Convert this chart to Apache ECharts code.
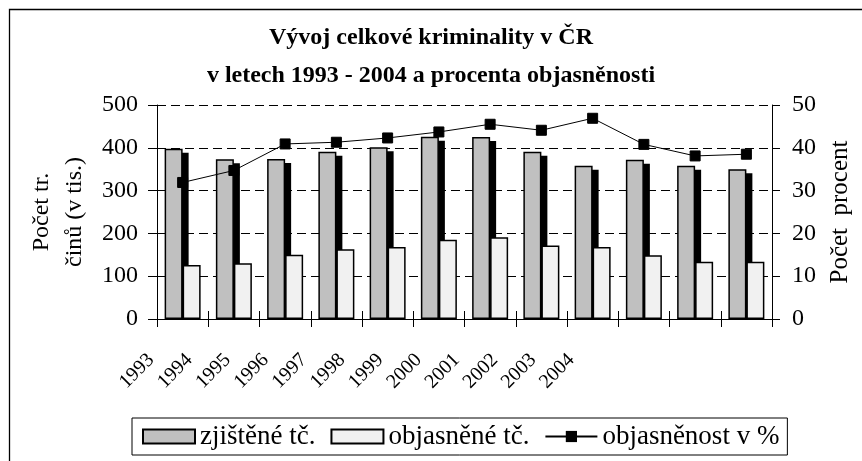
<!DOCTYPE html>
<html>
<head>
<meta charset="utf-8">
<script src="https://cdn.jsdelivr.net/npm/echarts@6/dist/echarts.min.js"></script>
<style>
html,body{margin:0;padding:0;background:#fff;}
#c{width:862px;height:461px;}
</style>
</head>
<body>
<div id="c"></div>
<script>
const years = ['1993','1994','1995','1996','1997','1998','1999','2000','2001','2002','2003','2004'];
const zjistene = [398, 373, 374, 391, 401, 426, 425, 391, 358, 372, 358, 350];
const objasnene = [126, 130, 150, 163, 168, 185, 191, 172, 168, 149, 134, 134];
const objasnenost = [31.9, 34.7, 40.9, 41.3, 42.3, 43.7, 45.5, 44.1, 46.9, 40.8, 38.1, 38.5];
const leftTicks = [0, 100, 200, 300, 400, 500];
const rightTicks = [0, 10, 20, 30, 40, 50];

const FONT = 'Liberation Serif';
const BAR_W = 18;
const chart = echarts.init(document.getElementById('c'), null, {renderer: 'canvas'});
chart.setOption({
  animation: false,
  backgroundColor: '#fff',
  graphic: [{
    type: 'rect', left: 7, top: 7, silent: true,
    shape: {width: 900, height: 500},
    style: {fill: 'none', stroke: '#000', lineWidth: 1.3},
    z: -10
  }],
  title: {
    text: 'Vývoj celkové kriminality v ČR\nv letech 1993 - 2004 a procenta objasněnosti',
    left: 'center', top: 14,
    textStyle: {fontFamily: FONT, fontWeight: 'bold', fontSize: 24, lineHeight: 38, color: '#000'}
  },
  legend: {
    left: 132, top: 418,
    padding: [5, 8, 5, 10],
    borderColor: '#000', borderWidth: 1,
    itemWidth: 52, itemHeight: 14, itemGap: 15,
    textStyle: {fontFamily: FONT, fontSize: 27, color: '#000'},
    data: [
      {name: 'zjištěné tč.', icon: 'rect'},
      {name: 'objasněné tč.', icon: 'rect'},
      {name: 'objasněnost v %'}
    ]
  },
  grid: [
    {left: 157, right: 90, top: 105, bottom: 142},
    {left: 132, right: 271.6, top: 105, bottom: 142}
  ],
  xAxis: [
    {
      type: 'category', data: years, gridIndex: 0, boundaryGap: true,
      axisLine: {lineStyle: {color: '#000', width: 1}},
      axisTick: {show: true, length: 8, interval: 0, lineStyle: {color: '#000'}},
      axisLabel: {show: false}
    },
    {
      type: 'category', data: years, gridIndex: 0, position: 'bottom', offset: 0,
      axisLine: {show: false},
      axisTick: {show: true, inside: true, length: 8, interval: 0, lineStyle: {color: '#000'}},
      axisLabel: {show: false}
    },
    {
      type: 'category', data: years, gridIndex: 1, position: 'bottom',
      axisLine: {show: false}, axisTick: {show: false},
      axisLabel: {rotate: 45, margin: 38, interval: 0, fontFamily: FONT, fontSize: 20, color: '#000'}
    }
  ],
  yAxis: [
    {
      type: 'value', gridIndex: 0, min: leftTicks[0], max: leftTicks[leftTicks.length - 1], interval: 100,
      name: 'Počet tr.\nčinů (v tis.)', nameLocation: 'middle', nameGap: 65, nameRotate: 90,
      nameTextStyle: {fontFamily: FONT, fontSize: 24, color: '#000', lineHeight: 33},
      axisLine: {show: true, lineStyle: {color: '#000'}},
      axisTick: {show: true, length: 9, lineStyle: {color: '#000'}},
      axisLabel: {margin: 19, fontFamily: FONT, fontSize: 24, color: '#000'},
      splitLine: {show: true, lineStyle: {color: '#000', type: [9, 5], width: 1}}
    },
    {
      type: 'value', gridIndex: 0, position: 'right', min: rightTicks[0], max: rightTicks[rightTicks.length - 1], interval: 10,
      name: 'Počet  procent', nameLocation: 'middle', nameGap: 56, nameRotate: 90,
      nameTextStyle: {fontFamily: FONT, fontSize: 25, color: '#000'},
      axisLine: {show: true, lineStyle: {color: '#000'}},
      axisTick: {show: true, length: 8, lineStyle: {color: '#000'}},
      axisLabel: {margin: 20, fontFamily: FONT, fontSize: 24, color: '#000'},
      splitLine: {show: false}
    },
    {type: 'value', gridIndex: 1, show: false}
  ],
  series: [
    {
      name: 'stín', type: 'custom', xAxisIndex: 0, yAxisIndex: 0, z: 1, silent: true,
      data: zjistene.map((v, i) => [i, v]),
      renderItem: function (params, api) {
        const top = api.coord([api.value(0), api.value(1)]);
        const base = api.coord([api.value(0), 0]);
        return {
          type: 'rect',
          shape: {x: top[0] - BAR_W + 6, y: top[1] + 4, width: BAR_W, height: base[1] - top[1] - 4},
          style: {fill: '#000'}
        };
      }
    },
    {
      name: 'zjištěné tč.', type: 'bar', xAxisIndex: 0, yAxisIndex: 0,
      data: zjistene, barWidth: BAR_W, barGap: '0%', z: 2,
      itemStyle: {color: '#C0C0C0', borderColor: '#000', borderWidth: 1.5}
    },
    {
      name: 'objasněné tč.', type: 'bar', xAxisIndex: 0, yAxisIndex: 0,
      data: objasnene, barWidth: BAR_W, barGap: '0%', z: 3,
      itemStyle: {color: '#F1F1F1', borderColor: '#000', borderWidth: 1.5}
    },
    {
      name: 'objasněnost v %', type: 'line', xAxisIndex: 0, yAxisIndex: 1,
      data: objasnenost, symbol: 'rect', symbolSize: 10, z: 5,
      lineStyle: {color: '#000', width: 1},
      itemStyle: {color: '#000', borderColor: '#000'}
    }
  ]
});
</script>
</body>
</html>
